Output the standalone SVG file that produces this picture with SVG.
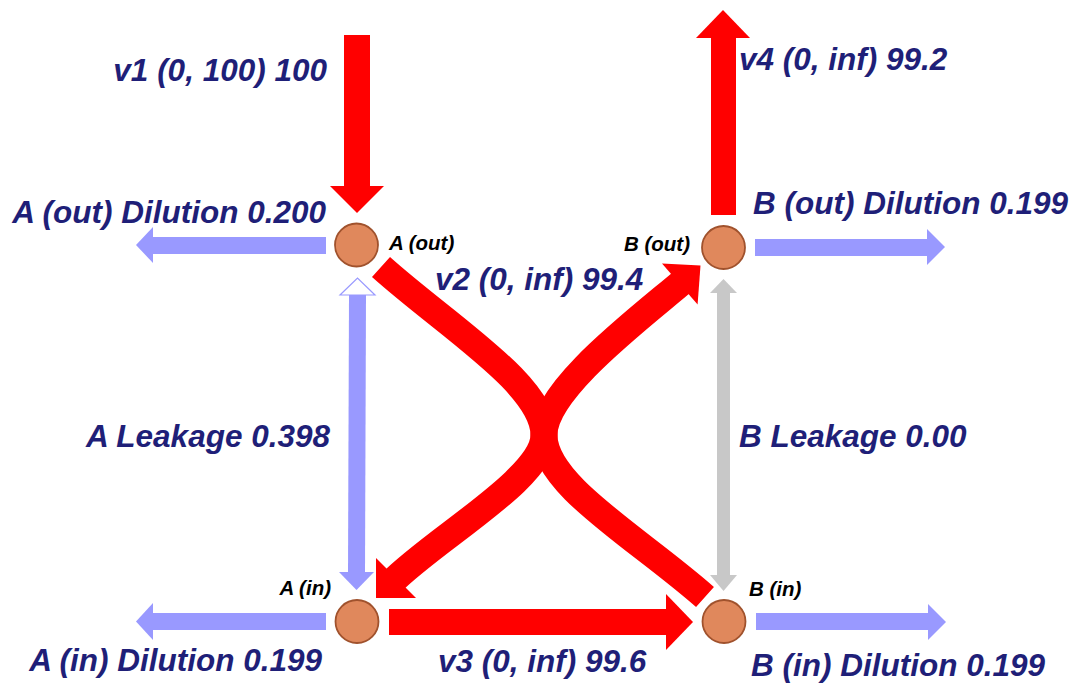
<svg xmlns="http://www.w3.org/2000/svg" width="1084" height="693" viewBox="0 0 1084 693">
<style>
.lbl{font-family:"Liberation Sans",Arial,sans-serif;font-weight:bold;font-style:italic;font-size:31.5px;fill:#1F1F78}
.nlbl{font-family:"Liberation Sans",Arial,sans-serif;font-weight:bold;font-style:italic;font-size:20.5px;fill:#000}
.node{fill:#E0885C;stroke:#A0522D;stroke-width:1.8}
.red{fill:#FF0000}
.redline{fill:none;stroke:#FF0000;stroke-width:27}
.blue{fill:#9999FF}
.gray{fill:#C8C8C8}
</style>
<rect width="1084" height="693" fill="#fff"/>
<g id="connectors">
  <g id="v1">
    <rect class="red" x="344" y="35" width="26" height="152"/>
    <polygon class="red" points="330,186 384,186 357,213"/>
  </g>
  <g id="v4">
    <rect class="red" x="711" y="37" width="25" height="178"/>
    <polygon class="red" points="696,38 750,38 723,10"/>
  </g>
  <g id="v3">
    <rect class="red" x="389" y="609" width="278" height="26"/>
    <polygon class="red" points="666,594 666,650 693,622"/>
  </g>
  <g id="v2">
    <path class="redline" d="M381 267 C448 327 544 385 544 435"/>
    <path class="redline" d="M705 597 C637 537 544 485 544 435"/>
    <path class="redline" d="M544 435 C544 478 434 539 391 583"/>
    <polygon class="red" points="376,558 416,598 376,598"/>
    <path class="redline" d="M544 435 C544 390 638 319.5 684 280.5"/>
    <polygon class="red" points="662,263.5 697.6,304.5 700.5,265.5"/>
  </g>
  <g id="dilutions">
    <rect class="blue" x="152" y="237" width="174" height="17"/>
    <polygon class="blue" points="153,227 153,263 136,245"/>
    <rect class="blue" x="152" y="613" width="174" height="17"/>
    <polygon class="blue" points="153,603 153,640 136,621.5"/>
    <rect class="blue" x="755" y="239" width="173" height="17"/>
    <polygon class="blue" points="927,229 927,265 945,247"/>
    <rect class="blue" x="756" y="613" width="173" height="17"/>
    <polygon class="blue" points="928,604 928,640 946,622"/>
  </g>
  <g id="a-leakage">
    <polygon class="blue" points="349,295 366,295 365,573 348,573"/>
    <polygon points="340,295 375,295 357.5,278" fill="#fff" stroke="#9999FF" stroke-width="1.2"/>
    <polygon class="blue" points="339,572 374,572 356.5,590"/>
  </g>
  <g id="b-leakage">
    <rect class="gray" x="717" y="292" width="13" height="284"/>
    <polygon class="gray" points="710,293 737,293 723.5,279"/>
    <polygon class="gray" points="710,575 737,575 723.5,591"/>
  </g>
</g>
<g id="node-a-out">
  <circle class="node" cx="356.5" cy="245" r="21.5"/>
  <text class="nlbl" x="389" y="250">A (out)</text>
</g>
<g id="node-b-out">
  <circle class="node" cx="723.5" cy="247.5" r="21.5"/>
  <text class="nlbl" x="690" y="251" text-anchor="end">B (out)</text>
</g>
<g id="node-a-in">
  <circle class="node" cx="357" cy="621.5" r="21.5"/>
  <text class="nlbl" x="331" y="595" text-anchor="end">A (in)</text>
</g>
<g id="node-b-in">
  <circle class="node" cx="724" cy="621.5" r="21.5"/>
  <text class="nlbl" x="749" y="596">B (in)</text>
</g>
<g id="labels">
  <text class="lbl" x="327" y="81" text-anchor="end">v1 (0, 100) 100</text>
  <text class="lbl" x="739" y="70">v4 (0, inf) 99.2</text>
  <text class="lbl" x="326" y="223" text-anchor="end">A (out) Dilution 0.200</text>
  <text class="lbl" x="753" y="214">B (out) Dilution 0.199</text>
  <text class="lbl" x="435" y="290">v2 (0, inf) 99.4</text>
  <text class="lbl" x="330" y="447" text-anchor="end">A Leakage 0.398</text>
  <text class="lbl" x="739" y="447">B Leakage 0.00</text>
  <text class="lbl" x="322" y="671" text-anchor="end">A (in) Dilution 0.199</text>
  <text class="lbl" x="438" y="672">v3 (0, inf) 99.6</text>
  <text class="lbl" x="751" y="676">B (in) Dilution 0.199</text>
</g>
</svg>
